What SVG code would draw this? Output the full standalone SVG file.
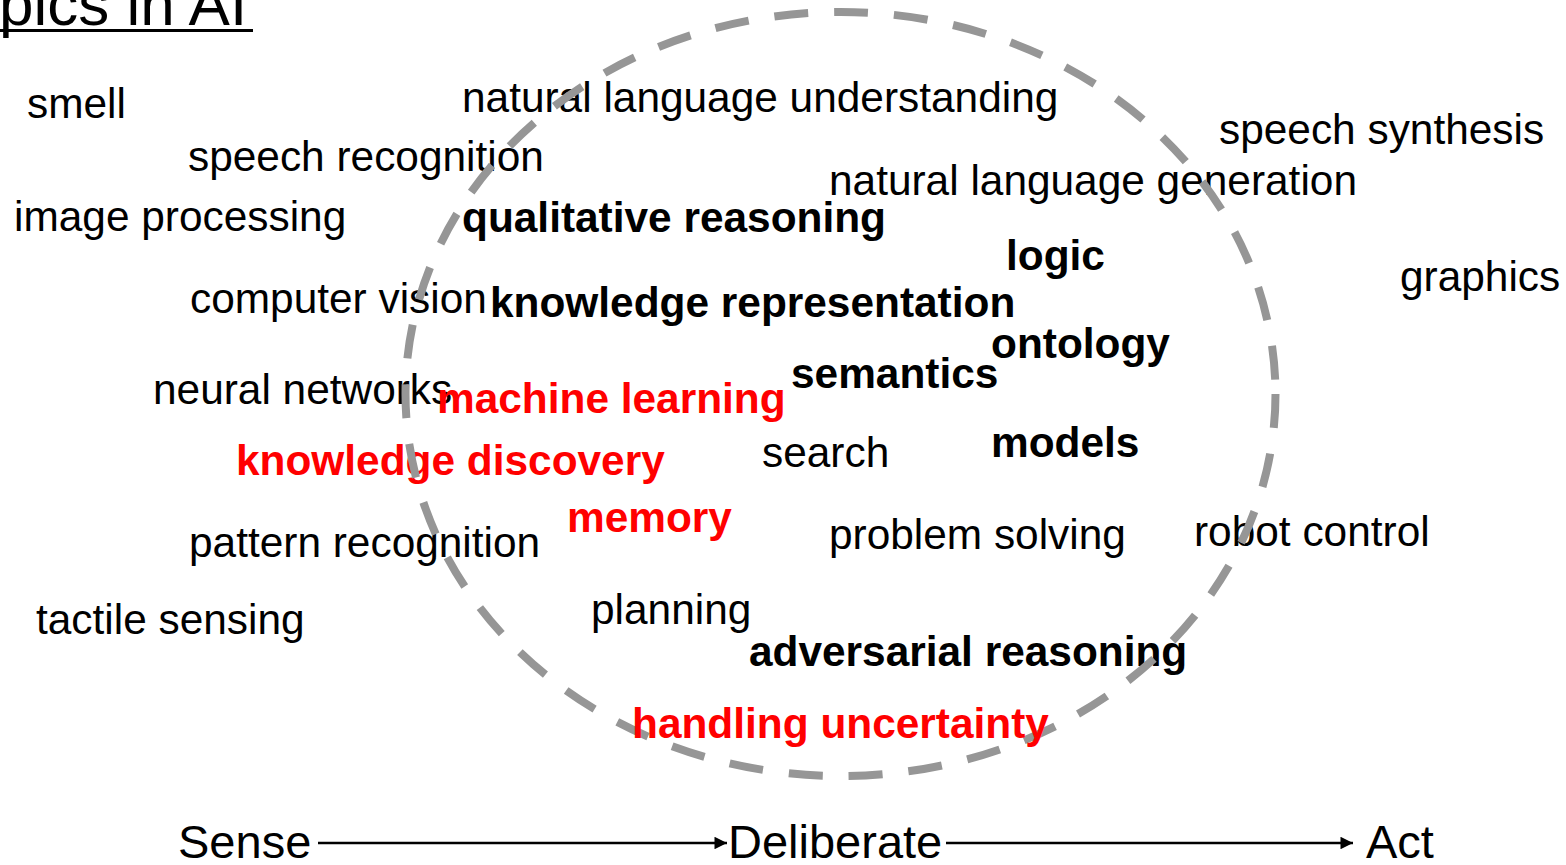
<svg xmlns="http://www.w3.org/2000/svg" width="1566" height="865" viewBox="0 0 1566 865">
<style>
text{font-family:"Liberation Sans",Arial,sans-serif;font-size:42.4px;fill:#000}
.b{font-weight:bold}
.r{fill:#ff0000;font-weight:bold}
.big{font-size:47px}
.ring{fill:none;stroke:#969696;stroke-width:8;stroke-dasharray:34 26}
.conn{stroke:#000;stroke-width:2.5;fill:none}
</style>
<defs>
<marker id="ah" viewBox="0 0 10 10" refX="10" refY="5" markerWidth="6" markerHeight="5" markerUnits="strokeWidth" orient="auto">
<path d="M0,0L10,5L0,10z" fill="#000"/>
</marker>
</defs>
<rect width="1566" height="865" fill="#fff"/>
<g id="title">
<text x="-1" y="25" style="font-size:62px">pics in AI</text>
<line x1="0" y1="30.5" x2="253" y2="30.5" stroke="#000" stroke-width="3"/>
</g>
<g id="smell"><text x="27" y="118">smell</text></g>
<g id="speech-recognition"><text x="188" y="171">speech recognition</text></g>
<g id="image-processing"><text x="14" y="231">image processing</text></g>
<g id="nlu"><text x="462" y="112">natural language understanding</text></g>
<g id="speech-synthesis"><text x="1219" y="144">speech synthesis</text></g>
<g id="nlg"><text x="829" y="195">natural language generation</text></g>
<g id="qualitative-reasoning"><text class="b" x="462" y="232">qualitative reasoning</text></g>
<g id="logic"><text class="b" x="1006" y="270">logic</text></g>
<g id="graphics"><text x="1400" y="291">graphics</text></g>
<g id="computer-vision"><text x="190" y="313">computer vision</text></g>
<g id="knowledge-representation"><text class="b" x="490" y="317">knowledge representation</text></g>
<g id="ontology"><text class="b" x="991" y="358">ontology</text></g>
<g id="semantics"><text class="b" x="791" y="388">semantics</text></g>
<g id="neural-networks"><text x="153" y="404">neural networks</text></g>
<g id="machine-learning"><text class="r" x="437" y="413">machine learning</text></g>
<g id="knowledge-discovery"><text class="r" x="236" y="475">knowledge discovery</text></g>
<g id="search"><text x="762" y="467">search</text></g>
<g id="models"><text class="b" x="991" y="457">models</text></g>
<g id="memory"><text class="r" x="567" y="532">memory</text></g>
<g id="problem-solving"><text x="829" y="549">problem solving</text></g>
<g id="robot-control"><text x="1194" y="546">robot control</text></g>
<g id="pattern-recognition"><text x="189" y="557">pattern recognition</text></g>
<g id="tactile-sensing"><text x="36" y="634">tactile sensing</text></g>
<g id="planning"><text x="591" y="624">planning</text></g>
<g id="adversarial-reasoning"><text class="b" x="749" y="666">adversarial reasoning</text></g>
<g id="ai-core"><ellipse class="ring" cx="840.5" cy="394" rx="435" ry="382"/></g>
<g id="handling-uncertainty"><text class="r" x="632" y="738">handling uncertainty</text></g>
<g id="sense"><text class="big" x="178" y="858">Sense</text></g>
<g id="deliberate"><text class="big" x="728" y="858">Deliberate</text></g>
<g id="act"><text class="big" x="1366" y="858">Act</text></g>
<g id="connectors">
<line class="conn" x1="318" y1="843" x2="727" y2="843" marker-end="url(#ah)"/>
<line class="conn" x1="946" y1="843" x2="1353" y2="843" marker-end="url(#ah)"/>
</g>
</svg>
